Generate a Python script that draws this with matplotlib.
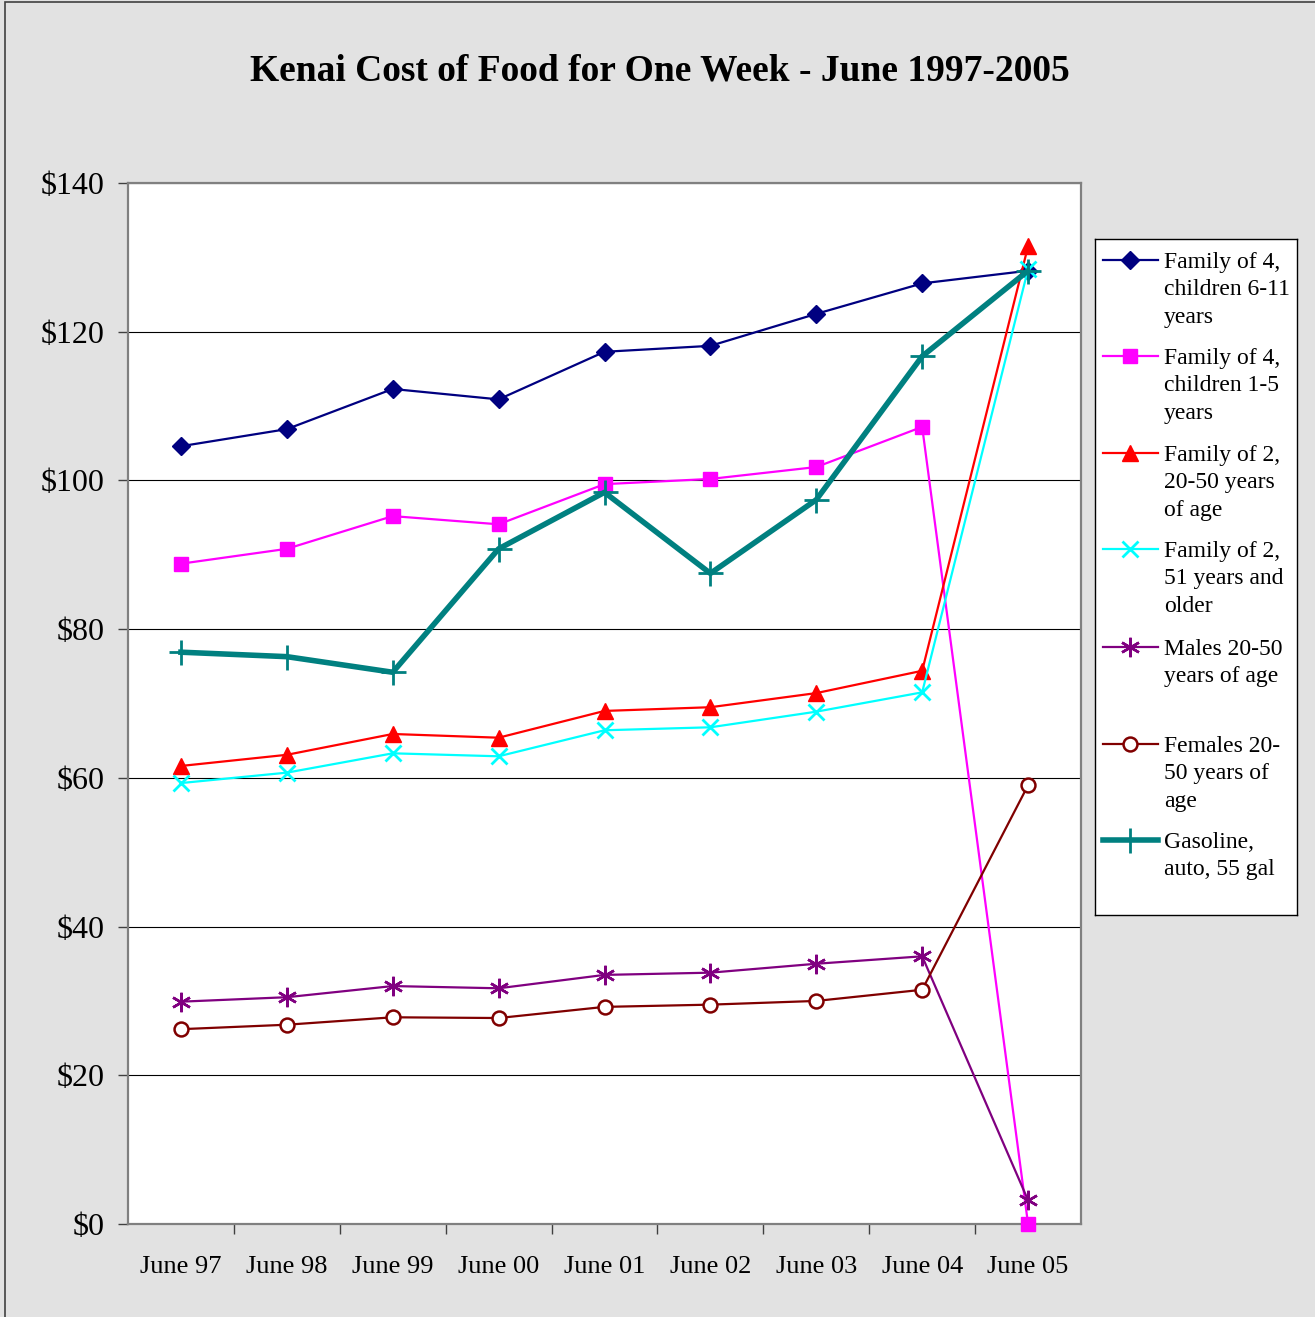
import matplotlib
matplotlib.use("Agg")
import matplotlib.pyplot as plt
from matplotlib.lines import Line2D
from matplotlib.patches import Rectangle
from matplotlib.ticker import FixedLocator, FuncFormatter

plt.rcParams['font.family'] = ['Liberation Serif', 'DejaVu Serif']

categories = ["June 97", "June 98", "June 99", "June 00", "June 01",
              "June 02", "June 03", "June 04", "June 05"]

fam4_6_11 = [104.6, 106.9, 112.3, 110.9, 117.3, 118.1, 122.4, 126.5, 128.2]
fam4_1_5 = [88.8, 90.8, 95.2, 94.1, 99.5, 100.2, 101.8, 107.2, 0.0]
fam2_20_50 = [61.6, 63.1, 65.9, 65.4, 69.0, 69.5, 71.4, 74.4, 131.5]
fam2_51 = [59.3, 60.7, 63.3, 62.9, 66.4, 66.8, 68.9, 71.5, 128.4]
males = [29.9, 30.5, 32.0, 31.7, 33.5, 33.8, 35.0, 36.0, 3.2]
females = [26.2, 26.8, 27.8, 27.7, 29.2, 29.5, 30.0, 31.5, 59.0]
gasoline = [76.9, 76.3, 74.2, 90.8, 98.4, 87.5, 97.4, 116.7, 128.2]

labels = ["Family of 4,\nchildren 6-11\nyears",
          "Family of 4,\nchildren 1-5\nyears",
          "Family of 2,\n20-50 years\nof age",
          "Family of 2,\n51 years and\nolder",
          "Males 20-50\nyears of age",
          "Females 20-\n50 years of\nage",
          "Gasoline,\nauto, 55 gal"]

yticks = [0, 20, 40, 60, 80, 100, 120, 140]

styles = [
    dict(color="#000080", lw=1.6, marker="D", ms=9, mfc="#000080", mec="#000080"),
    dict(color="#FF00FF", lw=1.6, marker="s", ms=10, mfc="#FF00FF", mec="#FF00FF"),
    dict(color="#FF0000", lw=1.6, marker="^", ms=11, mfc="#FF0000", mec="#FF0000"),
    dict(color="#00FFFF", lw=1.6, marker="x", ms=11, mew=2, mec="#00FFFF"),
    dict(color="#800080", lw=1.6, marker=(6, 2, 0), ms=14, mew=1.8, mec="#800080"),
    dict(color="#800000", lw=1.6, marker="o", ms=10, mfc="white", mec="#800000", mew=1.8),
    dict(color="#008080", lw=4, marker="+", ms=18, mew=2, mec="#008080"),
]
series = [fam4_6_11, fam4_1_5, fam2_20_50, fam2_51, males, females, gasoline]

W, H = 1315, 1317
fig = plt.figure(figsize=(W / 100, H / 100), dpi=100)
fig.patch.set_facecolor("#E2E2E2")
fig.patches.append(Rectangle((5 / W, -0.01), 1.02, 1 - 2 / H + 0.01,
                             transform=fig.transFigure, fill=False,
                             edgecolor="#404040", lw=1.2))

ax = fig.add_axes([128 / W, 1 - 1224 / H, 953 / W, 1041 / H])
ax.set_facecolor("white")
x = list(range(len(categories)))
for s, st in zip(series, styles):
    ax.plot(x, s, clip_on=False, zorder=3, **st)

ax.set_xlim(-0.5, len(categories) - 0.5)
ax.set_ylim(0, 140)
ax.set_yticks(yticks)
ax.yaxis.set_major_formatter(FuncFormatter(lambda v, p: f"${v:.0f}"))
ax.set_xticks(x)
ax.set_xticklabels(categories)
ax.xaxis.set_minor_locator(FixedLocator([i + 0.5 for i in range(len(categories) - 1)]))
ax.tick_params(axis="x", which="major", length=0, pad=23, labelsize=19)
ax.tick_params(axis="x", which="minor", length=7, width=1, direction="out", color="#404040")
ax.tick_params(axis="y", which="major", length=7, width=1, pad=10, labelsize=23, color="#404040")
ax.grid(axis="y", color="black", lw=0.8)
ax.set_axisbelow(True)
for sp in ax.spines.values():
    sp.set_color("#808080")
    sp.set_linewidth(1.6)

fig.text(659.5 / W, 1 - 71 / H, "Kenai Cost of Food for One Week - June 1997-2005",
         ha="center", va="center", fontsize=27, fontweight="bold")

# legend box
lx0, lx1, ly0, ly1 = 1095, 1297, 239, 915
lax = fig.add_axes([lx0 / W, 1 - ly1 / H, (lx1 - lx0) / W, (ly1 - ly0) / H])
lax.set_xlim(lx0, lx1)
lax.set_ylim(ly1, ly0)
lax.set_xticks([])
lax.set_yticks([])
lax.set_facecolor("white")
for sp in lax.spines.values():
    sp.set_color("black")
    sp.set_linewidth(1)
ys = [260, 356, 453, 549, 647, 744, 840]
for yy, lab, st in zip(ys, labels, styles):
    lax.add_line(Line2D([1103, 1158], [yy, yy], color=st["color"], lw=st["lw"]))
    mk = {k: v for k, v in st.items() if k not in ("lw", "color")}
    lax.plot([1130], [yy], color=st["color"], lw=0, **mk)
    lax.text(1164, yy - 8, lab, ha="left", va="top", fontsize=17, linespacing=1.4)

fig.savefig("out.png", dpi=100, facecolor=fig.get_facecolor())
